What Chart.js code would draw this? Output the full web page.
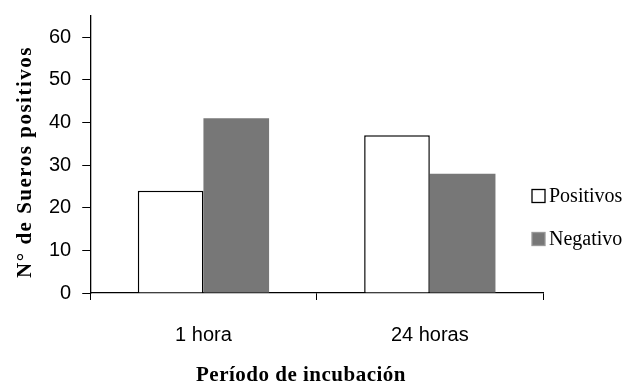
<!DOCTYPE html>
<html><head><meta charset="utf-8">
<script src="https://cdn.jsdelivr.net/npm/chart.js@4.4.0/dist/chart.umd.min.js"></script>
<style>html,body{margin:0;padding:0;background:#fff;}#wrap{width:629px;height:383px;}</style>
</head><body><div id="wrap"><canvas id="c"></canvas></div>
<script>
const categories=['1 hora','24 horas'];
const positivos=[24,37];
const negativo=[41,28];
const yTicks=[0,10,20,30,40,50,60];
const seriesNames=['Positivos','Negativo'];
const yTitle='N° de Sueros positivos';
const xTitle='Período de incubación';

const SERIF='"Liberation Serif","Times New Roman",serif';
const SANS='"Liberation Sans",Arial,sans-serif';

// axis titles + legend drawn by hand (the original has spaced serif titles)
const extras={
  id:'extras',
  afterDraw(chart){
    const ctx=chart.ctx, a=chart.chartArea;
    ctx.save();
    ctx.fillStyle='#000';
    ctx.textAlign='center';
    ctx.textBaseline='alphabetic';
    // y title
    ctx.save();
    ctx.font='bold 21px '+SERIF;
    ctx.letterSpacing='1.5px';
    ctx.translate(31,162);
    ctx.rotate(-Math.PI/2);
    ctx.fillText(yTitle,0,0);
    ctx.restore();
    // x title
    ctx.font='bold 21px '+SERIF;
    ctx.letterSpacing='0.5px';
    ctx.fillText(xTitle,301,381);
    ctx.letterSpacing='0px';
    // legend
    const x=a.right-11;
    const rows=[{y:196,fill:'#fff',stroke:'#000'},{y:239,fill:'#777',stroke:'#999'}];
    ctx.font='20px '+SERIF;
    ctx.textAlign='left';
    ctx.textBaseline='middle';
    rows.forEach((r,i)=>{
      ctx.fillStyle=r.fill; ctx.fillRect(x,r.y-6.5,13,13);
      ctx.strokeStyle=r.stroke; ctx.lineWidth=1.3; ctx.strokeRect(x,r.y-6.5,13,13);
      ctx.fillStyle='#000'; ctx.fillText(seriesNames[i],x+17,r.y+1);
    });
    ctx.restore();
  }
};

new Chart(document.getElementById('c'),{
  type:'bar',
  data:{labels:categories,datasets:[
    {label:seriesNames[0],data:positivos,backgroundColor:'#fff',borderColor:'#000',borderWidth:1.5,borderSkipped:'bottom'},
    {label:seriesNames[1],data:negativo,backgroundColor:'#777',borderWidth:0}
  ]},
  options:{
    responsive:true,maintainAspectRatio:false,animation:false,
    layout:{padding:{top:16,right:86,left:38,bottom:13}},
    categoryPercentage:0.58,barPercentage:1,
    plugins:{legend:{display:false},tooltip:{enabled:false}},
    scales:{
      x:{
        grid:{offset:true,drawOnChartArea:false,tickLength:7,color:'#000',tickColor:'#000'},
        border:{color:'#000',width:1.3},
        ticks:{color:'#000',font:{family:SANS,size:20},padding:23}
      },
      y:{
        min:0,max:65,
        afterBuildTicks(s){ s.ticks=yTicks.map(v=>({value:v})); },
        afterFit(s){ s.paddingTop=0; },
        grid:{drawOnChartArea:false,tickLength:8,color:'#000',tickColor:'#000'},
        border:{color:'#000',width:1.3},
        ticks:{color:'#000',font:{family:SANS,size:20},padding:11}
      }
    }
  },
  plugins:[extras]
});
</script></body></html>
